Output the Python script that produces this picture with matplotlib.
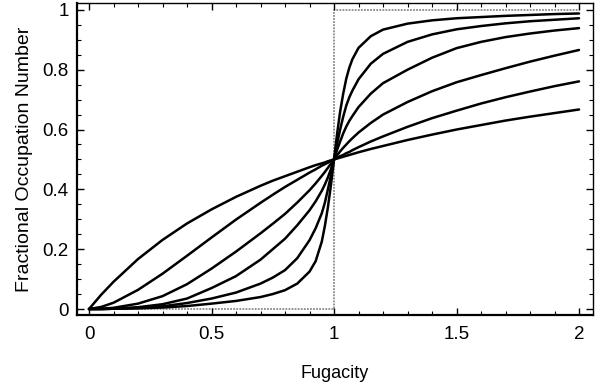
import matplotlib
matplotlib.use("Agg")
import matplotlib.pyplot as plt
from matplotlib.ticker import MultipleLocator

# Fugacity sample points
fugacity = [0, 0.05, 0.1, 0.2, 0.3, 0.4, 0.5, 0.6, 0.7, 0.75,
            0.8, 0.85, 0.9, 0.925, 0.95, 0.9625, 0.975, 0.9875, 1.0, 1.0125,
            1.025, 1.0375, 1.05, 1.0625, 1.075, 1.1, 1.15, 1.2, 1.3, 1.4,
            1.5, 1.6, 1.7, 1.8, 1.9, 2.0]

# Occupation curves, from the most gradual to the steepest
curve1 = [0, 0.048, 0.091, 0.167, 0.231, 0.286, 0.333, 0.375, 0.412, 0.429,
          0.444, 0.459, 0.474, 0.481, 0.487, 0.490, 0.494, 0.497, 0.5, 0.503,
          0.506, 0.509, 0.512, 0.515, 0.518, 0.524, 0.535, 0.545, 0.565, 0.583,
          0.6, 0.615, 0.63, 0.643, 0.655, 0.667]
curve2 = [0, 0.007, 0.021, 0.064, 0.118, 0.178, 0.239, 0.299, 0.355, 0.382,
          0.408, 0.432, 0.456, 0.467, 0.479, 0.484, 0.489, 0.495, 0.5, 0.505,
          0.511, 0.515, 0.521, 0.525, 0.531, 0.541, 0.56, 0.577, 0.609, 0.638,
          0.663, 0.687, 0.708, 0.727, 0.745, 0.761]
curve3 = [0, 0.001, 0.004, 0.018, 0.043, 0.083, 0.135, 0.192, 0.253, 0.285,
          0.318, 0.356, 0.397, 0.42, 0.445, 0.458, 0.472, 0.486, 0.5, 0.514,
          0.527, 0.539, 0.55, 0.561, 0.571, 0.59, 0.622, 0.65, 0.692, 0.728,
          0.758, 0.782, 0.805, 0.827, 0.847, 0.866]
curve4 = [0, 0, 0.001, 0.006, 0.016, 0.035, 0.07, 0.11, 0.165, 0.2,
          0.235, 0.28, 0.33, 0.36, 0.395, 0.416, 0.44, 0.468, 0.5, 0.532,
          0.56, 0.587, 0.61, 0.629, 0.645, 0.675, 0.72, 0.755, 0.8, 0.84,
          0.872, 0.893, 0.909, 0.921, 0.931, 0.939]
curve5 = [0, 0, 0.001, 0.004, 0.009, 0.02, 0.035, 0.055, 0.085, 0.105,
          0.13, 0.17, 0.23, 0.27, 0.32, 0.355, 0.4, 0.447, 0.5, 0.553,
          0.6, 0.643, 0.68, 0.708, 0.73, 0.768, 0.82, 0.853, 0.893, 0.918,
          0.935, 0.946, 0.955, 0.962, 0.967, 0.972]
curve6 = [0, 0, 0.001, 0.002, 0.005, 0.01, 0.018, 0.027, 0.04, 0.05,
          0.063, 0.085, 0.125, 0.16, 0.225, 0.277, 0.34, 0.415, 0.5, 0.585,
          0.66, 0.72, 0.77, 0.807, 0.835, 0.873, 0.912, 0.934, 0.954, 0.965,
          0.972, 0.976, 0.98, 0.983, 0.986, 0.988]
curves = [curve1, curve2, curve3, curve4, curve5, curve6]

# Zero-temperature step
step_x = [0, 1, 1, 2]
step_y = [0, 0, 1, 1]

x_ticks = [0, 0.5, 1, 1.5, 2]
x_ticklabels = ["0", "0.5", "1", "1.5", "2"]
y_ticks = [0, 0.2, 0.4, 0.6, 0.8, 1]
y_ticklabels = ["0", "0.2", "0.4", "0.6", "0.8", "1"]

plt.rcParams['font.family'] = ['Liberation Sans', 'DejaVu Sans']

fig = plt.figure(figsize=(6.03, 3.90), dpi=100)
ax = fig.add_axes([77/603, 1-315/390, (593-77)/603, (315-3)/390])

ax.plot(step_x, step_y, color="#8a8a8a", linestyle=(0, (1, 0.7)), linewidth=1.3, zorder=1)
for c in curves:
    ax.plot(fugacity, c, color="black", linewidth=1.8, solid_capstyle="round",
            solid_joinstyle="round", zorder=2)

ax.set_xlim(-0.049, 2.057)
ax.set_ylim(-0.020, 1.023)
ax.set_xticks(x_ticks)
ax.set_xticklabels(x_ticklabels)
ax.set_yticks(y_ticks)
ax.set_yticklabels(y_ticklabels)
ax.xaxis.set_minor_locator(MultipleLocator(0.1))
ax.yaxis.set_minor_locator(MultipleLocator(0.05))
ax.tick_params(which="both", direction="in", top=True, right=True, labelsize=13.5, colors="black")
ax.tick_params(which="major", length=5, width=1)
ax.tick_params(which="minor", length=3, width=0.8)
ax.tick_params(axis="x", pad=8)
ax.tick_params(axis="y", pad=6)

for side in ["bottom", "left"]:
    ax.spines[side].set_linewidth(1.6)
for side in ["top", "right"]:
    ax.spines[side].set_linewidth(1.0)

ax.set_xlabel("Fugacity", fontsize=13, labelpad=16)
ax.set_ylabel("Fractional Occupation Number", fontsize=14, labelpad=7)

fig.savefig("out.png", dpi=100)
